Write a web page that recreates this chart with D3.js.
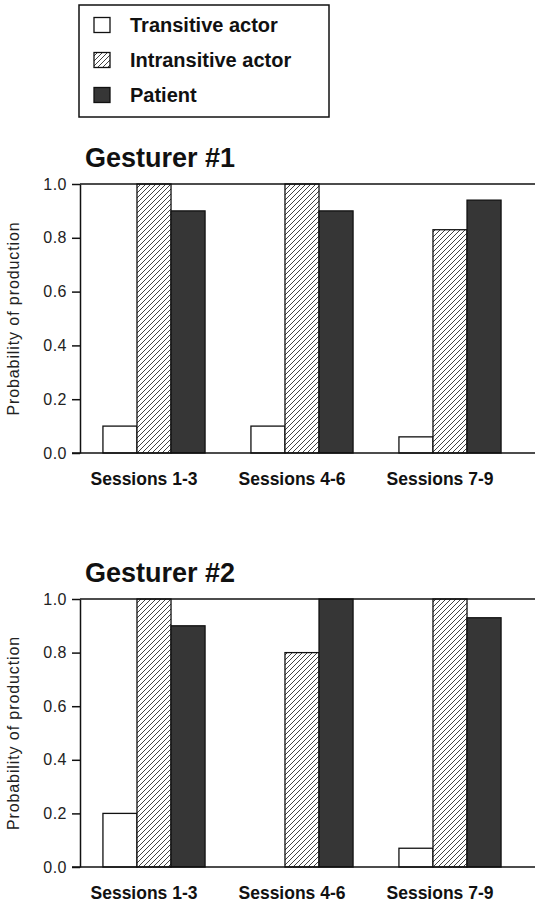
<!DOCTYPE html>
<html>
<head>
<meta charset="utf-8">
<script src="https://cdn.jsdelivr.net/npm/d3@7"></script>
<style>
  body { margin: 0; background: #fff; }
  svg { display: block; font-family: "Liberation Sans", Arial, sans-serif; }
</style>
</head>
<body>
<svg id="chart"></svg>
<script>
// data
const sessions = ["Sessions 1-3", "Sessions 4-6", "Sessions 7-9"];
const roles = ["Transitive actor", "Intransitive actor", "Patient"];
const yTicks = [0, 0.2, 0.4, 0.6, 0.8, 1.0];

const g1Transitive = [0.10, 0.10, 0.06];
const g1Intransitive = [1.00, 1.00, 0.83];
const g1Patient = [0.90, 0.90, 0.94];

const g2Transitive = [0.20, 0.00, 0.07];
const g2Intransitive = [1.00, 0.80, 1.00];
const g2Patient = [0.90, 1.00, 0.93];

const panels = [
  { title: "Gesturer #1", series: [g1Transitive, g1Intransitive, g1Patient], top: 184, bottom: 453 },
  { title: "Gesturer #2", series: [g2Transitive, g2Intransitive, g2Patient], top: 599, bottom: 867 }
];

const W = 535, H = 904;
const svg = d3.select("#chart").attr("width", W).attr("height", H);

// hatch pattern for intransitive bars
const defs = svg.append("defs");
const hatch = defs.append("pattern")
    .attr("id", "hatch")
    .attr("patternUnits", "userSpaceOnUse")
    .attr("width", 5).attr("height", 5);
hatch.append("rect").attr("width", 5).attr("height", 5).attr("fill", "#fff");
hatch.append("path")
    .attr("d", "M0,5 L5,0 M-1,1 L1,-1 M4,6 L6,4")
    .attr("stroke", "#111").attr("stroke-width", 0.8);

const fills = ["#fff", "url(#hatch)", "#363636"];

// legend
const legend = svg.append("g");
legend.append("rect")
    .attr("x", 79).attr("y", 5).attr("width", 250).attr("height", 112)
    .attr("fill", "#fff").attr("stroke", "#111").attr("stroke-width", 1.5);
const rowY = d3.scalePoint().domain(roles).range([25, 95]);
roles.forEach((r, i) => {
  legend.append("rect")
      .attr("x", 94).attr("y", rowY(r) - 7.5).attr("width", 16).attr("height", 15)
      .attr("fill", fills[i]).attr("stroke", "#111").attr("stroke-width", 1.3);
  legend.append("text")
      .attr("x", 130).attr("y", rowY(r) + 7)
      .attr("font-size", "20px").attr("font-weight", "bold").attr("fill", "#111")
      .text(r);
});

const x = d3.scaleBand().domain(sessions).range([80, 524])
    .paddingInner(0.31).paddingOuter(0.155);
const xRole = d3.scaleBand().domain(roles).range([0, x.bandwidth()]);

panels.forEach(p => {
  const y = d3.scaleLinear().domain([0, 1]).range([p.bottom, p.top]);
  const g = svg.append("g");

  // title
  g.append("text")
      .attr("x", 85).attr("y", p.top - 17)
      .attr("font-size", "27px").attr("font-weight", "bold").attr("fill", "#111")
      .text(p.title);

  // bars
  p.series.forEach((vals, i) => {
    g.selectAll(null)
      .data(vals)
      .join("rect")
        .attr("x", (d, j) => x(sessions[j]) + xRole(roles[i]))
        .attr("y", d => y(d))
        .attr("width", xRole.bandwidth())
        .attr("height", d => y(0) - y(d))
        .attr("fill", fills[i])
        .attr("stroke", "#111")
        .attr("stroke-width", d => d > 0 ? 1.3 : 0);
  });

  // top and bottom frame lines
  g.append("line")
      .attr("x1", 80).attr("x2", W).attr("y1", y(1)).attr("y2", y(1))
      .attr("stroke", "#111").attr("stroke-width", 1.5);
  g.append("line")
      .attr("x1", 72).attr("x2", W).attr("y1", y(0)).attr("y2", y(0))
      .attr("stroke", "#111").attr("stroke-width", 1.5);

  // y axis
  const yAxis = g.append("g")
      .attr("transform", "translate(80,0)")
      .call(d3.axisLeft(y).tickValues(yTicks).tickFormat(d3.format(".1f"))
        .tickSize(8).tickSizeOuter(0).tickPadding(5));
  yAxis.select(".domain").attr("stroke", "#111").attr("stroke-width", 1.5);
  yAxis.selectAll(".tick line").attr("stroke", "#111").attr("stroke-width", 1.5);
  yAxis.selectAll(".tick text")
      .attr("font-size", "16px").attr("fill", "#222")
      .attr("letter-spacing", "0.5px")
      .attr("font-family", "'Liberation Sans', Arial, sans-serif");

  // y label
  g.append("text")
      .attr("transform", `translate(19,${(p.top + p.bottom) / 2}) rotate(-90)`)
      .attr("text-anchor", "middle")
      .attr("font-size", "16px").attr("fill", "#222")
      .attr("letter-spacing", "0.9px")
      .text("Probability of production");

  // category labels
  g.selectAll(null)
    .data(sessions)
    .join("text")
      .attr("x", d => x(d) + x.bandwidth() / 2 - 10)
      .attr("y", p.bottom + 32)
      .attr("text-anchor", "middle")
      .attr("font-size", "17.5px").attr("font-weight", "bold").attr("fill", "#111")
      .text(d => d);
});
</script>
</body>
</html>
